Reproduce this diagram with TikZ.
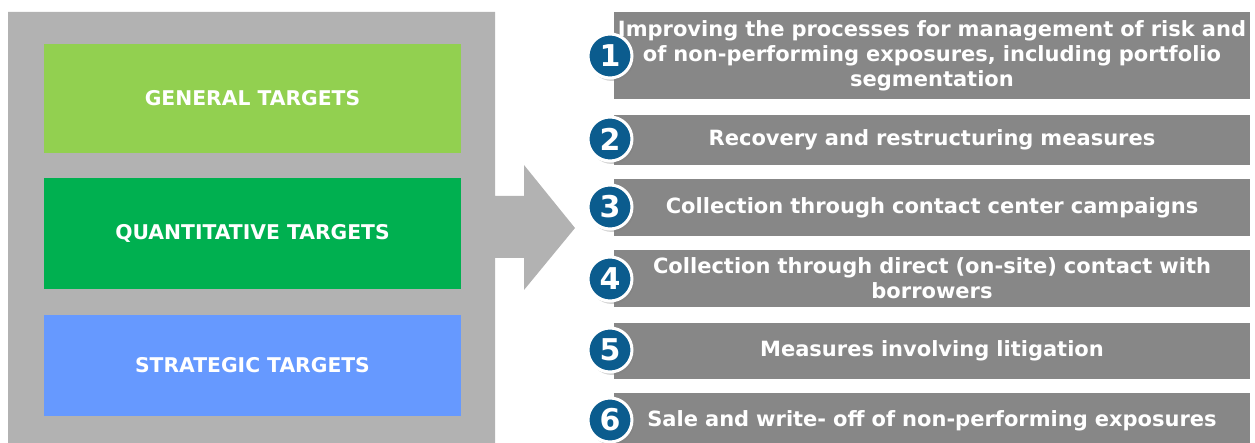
\documentclass[tikz,border=0pt]{standalone}
\usepackage{fontspec}
\setmainfont{DejaVu Sans}
\usepackage{tikz}
\usetikzlibrary{positioning,shadows}
\usepackage{xcolor}
\definecolor{panelgrey}{HTML}{B2B2B2}
\definecolor{boxgrey}{HTML}{878787}
\definecolor{lightgreen}{HTML}{92D050}
\definecolor{darkgreen}{HTML}{00B050}
\definecolor{skyblue}{HTML}{6699FF}
\definecolor{badgeblue}{HTML}{0B5C8E}

\begin{document}
\begin{tikzpicture}[x=1pt,y=-1pt,
  target/.style={minimum width=417pt,inner sep=0pt,text=white,
    font=\bfseries\fontsize{20.3}{24}\selectfont},
  measure/.style={fill=boxgrey,minimum width=636pt,text width=634pt,inner sep=0pt,
    align=center,text=white,font=\bfseries\fontsize{21}{25}\selectfont},
  badge/.style={circle,fill=badgeblue,draw=white,line width=3pt,minimum size=44pt,
    inner sep=0pt,text=white,font=\bfseries\fontsize{30}{30}\selectfont,
    drop shadow={shadow xshift=2pt,shadow yshift=-3pt,opacity=0.35}}]
\useasboundingbox (0,0) rectangle (1255,443);
% left panel with its arrow
\fill[panelgrey] (8,12) -- (495,12) -- (495,196) -- (524,196) -- (524,165) -- (575,228)
  -- (524,290) -- (524,258) -- (495,258) -- (495,450) -- (8,450) -- cycle;
\node[target,fill=lightgreen,minimum height=109pt] (gen) at (252.5,98.5) {GENERAL TARGETS};
\node[target,fill=darkgreen,minimum height=111pt] (quant) at (252.5,233.5) {QUANTITATIVE TARGETS};
\node[target,fill=skyblue,minimum height=101pt] (strat) at (252.5,365.5) {STRATEGIC TARGETS};
% measures
\node[measure,minimum height=87pt] (m1) at (932,55.5) {Improving the processes for management of risk and\\ of non-performing exposures, including portfolio\\ segmentation};
\node[measure,minimum height=50pt] (m2) at (932,140) {Recovery and restructuring measures};
\node[measure,minimum height=57pt] (m3) at (932,207.5) {Collection through contact center campaigns};
\node[measure,minimum height=57pt] (m4) at (932,278.5) {Collection through direct (on-site) contact with\\ borrowers};
\node[measure,minimum height=56pt] (m5) at (932,351) {Measures involving litigation};
\node[measure,minimum height=56pt] (m6) at (932,421) {Sale and write- off of non-performing exposures};
% number badges
\foreach \n/\y in {1/56,2/139,3/207,4/279,5/350,6/420}
  \node[badge] (b\n) at (610,\y) {\n};
\end{tikzpicture}
\end{document}
